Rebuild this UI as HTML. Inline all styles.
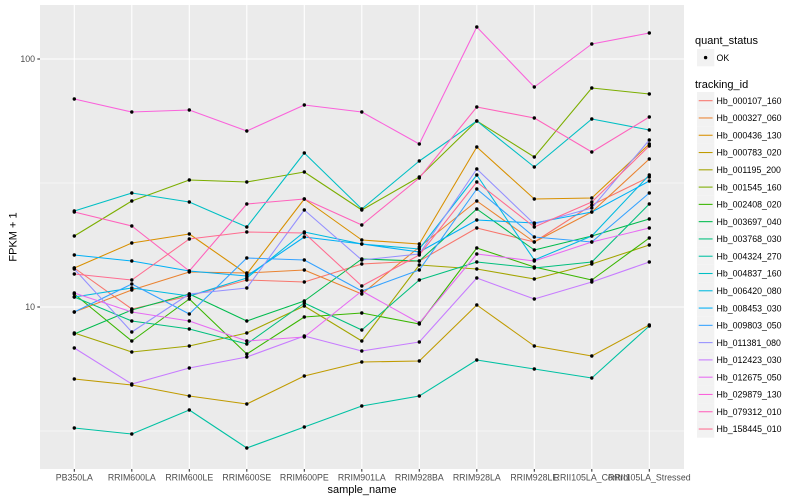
<!DOCTYPE html>
<html>
<head>
<meta charset="utf-8">
<style>
  html,body{margin:0;padding:0;background:#fff;}
  svg{display:block;}
  text{font-family:"Liberation Sans",Arial,sans-serif;}
  .ln{fill:none;stroke-width:1.07;stroke-linejoin:round;}
  .pt{fill:none;stroke:none;marker-start:url(#d);marker-mid:url(#d);marker-end:url(#d);}
  .tk{font-size:8.8px;fill:#4D4D4D;}
  .lg{font-size:8.8px;fill:#000;}
  .tt{font-size:11px;fill:#000;}
</style>
</head>
<body>
<svg width="800" height="500" viewBox="0 0 800 500" xmlns="http://www.w3.org/2000/svg">
<defs>
  <marker id="d" markerUnits="userSpaceOnUse" markerWidth="5" markerHeight="5" refX="2.5" refY="2.5" viewBox="0 0 5 5">
    <circle cx="2.5" cy="2.5" r="1.7" fill="#000"/>
  </marker>
</defs>
<rect x="0" y="0" width="800" height="500" fill="#fff"/>
<!-- panel -->
<rect x="40" y="5" width="644" height="464" fill="#EBEBEB"/>
<!-- minor grid -->
<line x1="40" x2="684" y1="183" y2="183" stroke="#fff" stroke-width="0.6"/>
<line x1="40" x2="684" y1="431" y2="431" stroke="#fff" stroke-width="0.6"/>
<!-- major grid -->
<g stroke="#fff" stroke-width="1.1">
<line x1="40" x2="684" y1="59" y2="59"/>
<line x1="40" x2="684" y1="307" y2="307"/>
<line x1="74.3" x2="74.3" y1="5" y2="469"/>
<line x1="131.8" x2="131.8" y1="5" y2="469"/>
<line x1="189.3" x2="189.3" y1="5" y2="469"/>
<line x1="246.8" x2="246.8" y1="5" y2="469"/>
<line x1="304.3" x2="304.3" y1="5" y2="469"/>
<line x1="361.8" x2="361.8" y1="5" y2="469"/>
<line x1="419.3" x2="419.3" y1="5" y2="469"/>
<line x1="476.8" x2="476.8" y1="5" y2="469"/>
<line x1="534.3" x2="534.3" y1="5" y2="469"/>
<line x1="591.8" x2="591.8" y1="5" y2="469"/>
<line x1="649.3" x2="649.3" y1="5" y2="469"/>
</g>

<!-- series lines -->
<g id="series">
<polyline class="ln" stroke="#F8766D" points="74.3,268 131.8,309 189.3,296 246.8,280 304.3,282 361.8,264 419.3,261 476.8,228 534.3,242 591.8,205 649.3,177"/>
<polyline class="ln" stroke="#EA8331" points="74.3,312 131.8,290 189.3,272 246.8,273 304.3,270 361.8,294 419.3,247 476.8,201 534.3,242 591.8,212 649.3,159"/>
<polyline class="ln" stroke="#D89000" points="74.3,268 131.8,243 189.3,234 246.8,274 304.3,199 361.8,240 419.3,244 476.8,147 534.3,199 591.8,198 649.3,144"/>
<polyline class="ln" stroke="#C09B00" points="74.3,379 131.8,385 189.3,396 246.8,404 304.3,376 361.8,362 419.3,361 476.8,305 534.3,346 591.8,356 649.3,325"/>
<polyline class="ln" stroke="#A3A500" points="74.3,333 131.8,352 189.3,346 246.8,333 304.3,306 361.8,341 419.3,265 476.8,269 534.3,279 591.8,264 649.3,245"/>
<polyline class="ln" stroke="#7CAE00" points="74.3,236 131.8,201 189.3,180 246.8,182 304.3,172 361.8,210 419.3,177 476.8,121 534.3,157 591.8,88 649.3,94"/>
<polyline class="ln" stroke="#39B600" points="74.3,294 131.8,341 189.3,299 246.8,354 304.3,317 361.8,313 419.3,324 476.8,248 534.3,267 591.8,280 649.3,238"/>
<polyline class="ln" stroke="#00BB4E" points="74.3,334 131.8,310 189.3,294 246.8,321 304.3,301 361.8,259 419.3,261 476.8,209 534.3,250 591.8,236 649.3,219"/>
<polyline class="ln" stroke="#00BF7D" points="74.3,297 131.8,321 189.3,329 246.8,344 304.3,303 361.8,330 419.3,280 476.8,262 534.3,268 591.8,262 649.3,204"/>
<polyline class="ln" stroke="#00C1A3" points="74.3,428 131.8,434 189.3,410 246.8,448 304.3,427 361.8,406 419.3,396 476.8,360 534.3,369 591.8,378 649.3,326"/>
<polyline class="ln" stroke="#00BFC4" points="74.3,211 131.8,193 189.3,202 246.8,227 304.3,153 361.8,209 419.3,161 476.8,121 534.3,167 591.8,119 649.3,130"/>
<polyline class="ln" stroke="#00BAE0" points="74.3,297 131.8,288 189.3,296 246.8,278 304.3,232 361.8,244 419.3,249 476.8,175 534.3,260 591.8,236 649.3,175"/>
<polyline class="ln" stroke="#00B0F6" points="74.3,255 131.8,261 189.3,271 246.8,276 304.3,237 361.8,244 419.3,252 476.8,220 534.3,223 591.8,212 649.3,181"/>
<polyline class="ln" stroke="#35A2FF" points="74.3,312 131.8,284 189.3,314 246.8,258 304.3,260 361.8,291 419.3,270 476.8,189 534.3,237 591.8,242 649.3,193"/>
<polyline class="ln" stroke="#9590FF" points="74.3,269 131.8,332 189.3,294 246.8,288 304.3,210 361.8,260 419.3,254 476.8,169 534.3,224 591.8,208 649.3,140"/>
<polyline class="ln" stroke="#C77CFF" points="74.3,348 131.8,384 189.3,368 246.8,357 304.3,336 361.8,351 419.3,342 476.8,278 534.3,299 591.8,282 649.3,262"/>
<polyline class="ln" stroke="#E76BF3" points="74.3,293 131.8,312 189.3,321 246.8,341 304.3,337 361.8,291 419.3,323 476.8,254 534.3,261 591.8,242 649.3,228"/>
<polyline class="ln" stroke="#FA62DB" points="74.3,99 131.8,112 189.3,110 246.8,131 304.3,105 361.8,112 419.3,144 476.8,27 534.3,87 591.8,44 649.3,33"/>
<polyline class="ln" stroke="#FF62BC" points="74.3,212 131.8,226 189.3,271 246.8,204 304.3,199 361.8,225 419.3,178 476.8,107 534.3,118 591.8,152 649.3,117"/>
<polyline class="ln" stroke="#FF6C90" points="74.3,274 131.8,280 189.3,239 246.8,232 304.3,233 361.8,286 419.3,255 476.8,182 534.3,227 591.8,202 649.3,146"/>
</g>

<!-- points -->
<g>
<polyline class="pt" points="74.3,268 131.8,309 189.3,296 246.8,280 304.3,282 361.8,264 419.3,261 476.8,228 534.3,242 591.8,205 649.3,177"/>
<polyline class="pt" points="74.3,312 131.8,290 189.3,272 246.8,273 304.3,270 361.8,294 419.3,247 476.8,201 534.3,242 591.8,212 649.3,159"/>
<polyline class="pt" points="74.3,268 131.8,243 189.3,234 246.8,274 304.3,199 361.8,240 419.3,244 476.8,147 534.3,199 591.8,198 649.3,144"/>
<polyline class="pt" points="74.3,379 131.8,385 189.3,396 246.8,404 304.3,376 361.8,362 419.3,361 476.8,305 534.3,346 591.8,356 649.3,325"/>
<polyline class="pt" points="74.3,333 131.8,352 189.3,346 246.8,333 304.3,306 361.8,341 419.3,265 476.8,269 534.3,279 591.8,264 649.3,245"/>
<polyline class="pt" points="74.3,236 131.8,201 189.3,180 246.8,182 304.3,172 361.8,210 419.3,177 476.8,121 534.3,157 591.8,88 649.3,94"/>
<polyline class="pt" points="74.3,294 131.8,341 189.3,299 246.8,354 304.3,317 361.8,313 419.3,324 476.8,248 534.3,267 591.8,280 649.3,238"/>
<polyline class="pt" points="74.3,334 131.8,310 189.3,294 246.8,321 304.3,301 361.8,259 419.3,261 476.8,209 534.3,250 591.8,236 649.3,219"/>
<polyline class="pt" points="74.3,297 131.8,321 189.3,329 246.8,344 304.3,303 361.8,330 419.3,280 476.8,262 534.3,268 591.8,262 649.3,204"/>
<polyline class="pt" points="74.3,428 131.8,434 189.3,410 246.8,448 304.3,427 361.8,406 419.3,396 476.8,360 534.3,369 591.8,378 649.3,326"/>
<polyline class="pt" points="74.3,211 131.8,193 189.3,202 246.8,227 304.3,153 361.8,209 419.3,161 476.8,121 534.3,167 591.8,119 649.3,130"/>
<polyline class="pt" points="74.3,297 131.8,288 189.3,296 246.8,278 304.3,232 361.8,244 419.3,249 476.8,175 534.3,260 591.8,236 649.3,175"/>
<polyline class="pt" points="74.3,255 131.8,261 189.3,271 246.8,276 304.3,237 361.8,244 419.3,252 476.8,220 534.3,223 591.8,212 649.3,181"/>
<polyline class="pt" points="74.3,312 131.8,284 189.3,314 246.8,258 304.3,260 361.8,291 419.3,270 476.8,189 534.3,237 591.8,242 649.3,193"/>
<polyline class="pt" points="74.3,269 131.8,332 189.3,294 246.8,288 304.3,210 361.8,260 419.3,254 476.8,169 534.3,224 591.8,208 649.3,140"/>
<polyline class="pt" points="74.3,348 131.8,384 189.3,368 246.8,357 304.3,336 361.8,351 419.3,342 476.8,278 534.3,299 591.8,282 649.3,262"/>
<polyline class="pt" points="74.3,293 131.8,312 189.3,321 246.8,341 304.3,337 361.8,291 419.3,323 476.8,254 534.3,261 591.8,242 649.3,228"/>
<polyline class="pt" points="74.3,99 131.8,112 189.3,110 246.8,131 304.3,105 361.8,112 419.3,144 476.8,27 534.3,87 591.8,44 649.3,33"/>
<polyline class="pt" points="74.3,212 131.8,226 189.3,271 246.8,204 304.3,199 361.8,225 419.3,178 476.8,107 534.3,118 591.8,152 649.3,117"/>
<polyline class="pt" points="74.3,274 131.8,280 189.3,239 246.8,232 304.3,233 361.8,286 419.3,255 476.8,182 534.3,227 591.8,202 649.3,146"/>
</g>

<!-- axis ticks -->
<g stroke="#333333" stroke-width="1.07">
<line x1="37.3" x2="40" y1="59" y2="59"/>
<line x1="37.3" x2="40" y1="307" y2="307"/>
<line x1="74.3" x2="74.3" y1="469" y2="471.7"/>
<line x1="131.8" x2="131.8" y1="469" y2="471.7"/>
<line x1="189.3" x2="189.3" y1="469" y2="471.7"/>
<line x1="246.8" x2="246.8" y1="469" y2="471.7"/>
<line x1="304.3" x2="304.3" y1="469" y2="471.7"/>
<line x1="361.8" x2="361.8" y1="469" y2="471.7"/>
<line x1="419.3" x2="419.3" y1="469" y2="471.7"/>
<line x1="476.8" x2="476.8" y1="469" y2="471.7"/>
<line x1="534.3" x2="534.3" y1="469" y2="471.7"/>
<line x1="591.8" x2="591.8" y1="469" y2="471.7"/>
<line x1="649.3" x2="649.3" y1="469" y2="471.7"/>
</g>

<!-- tick labels -->
<text class="tk" x="35" y="62.2" text-anchor="end">100</text>
<text class="tk" x="35" y="310.2" text-anchor="end">10</text>
<g class="tk" text-anchor="middle">
<text class="tk" x="74.3" y="480.5" text-anchor="middle">PB350LA</text>
<text class="tk" x="131.8" y="480.5" text-anchor="middle">RRIM600LA</text>
<text class="tk" x="189.3" y="480.5" text-anchor="middle">RRIM600LE</text>
<text class="tk" x="246.8" y="480.5" text-anchor="middle">RRIM600SE</text>
<text class="tk" x="304.3" y="480.5" text-anchor="middle">RRIM600PE</text>
<text class="tk" x="361.8" y="480.5" text-anchor="middle">RRIM901LA</text>
<text class="tk" x="419.3" y="480.5" text-anchor="middle">RRIM928BA</text>
<text class="tk" x="476.8" y="480.5" text-anchor="middle">RRIM928LA</text>
<text class="tk" x="534.3" y="480.5" text-anchor="middle">RRIM928LE</text>
<text class="tk" x="591.8" y="480.5" text-anchor="middle">RRII105LA_Control</text>
<text class="tk" x="649.3" y="480.5" text-anchor="middle">RRII105LA_Stressed</text>
</g>

<!-- axis titles -->
<text class="tt" x="362" y="493" text-anchor="middle">sample_name</text>
<text class="tt" transform="translate(16.5,237) rotate(-90)" text-anchor="middle">FPKM + 1</text>

<!-- legend: quant_status -->
<text class="tt" x="695" y="44">quant_status</text>
<rect x="697" y="49" width="17.3" height="17.3" fill="#F2F2F2"/>
<circle cx="705.6" cy="57.6" r="1.7" fill="#000"/>
<text class="lg" x="716.5" y="60.8">OK</text>

<!-- legend: tracking_id -->
<text class="tt" x="695" y="88">tracking_id</text>
<g>
<rect x="697" y="92.06" width="17.3" height="17.28" fill="#F2F2F2"/><line x1="698.7" x2="712.6" y1="100.7" y2="100.7" stroke="#F8766D" stroke-width="1.07"/><text class="lg" x="716.5" y="103.9">Hb_000107_160</text>
<rect x="697" y="109.34" width="17.3" height="17.28" fill="#F2F2F2"/><line x1="698.7" x2="712.6" y1="117.98" y2="117.98" stroke="#EA8331" stroke-width="1.07"/><text class="lg" x="716.5" y="121.2">Hb_000327_060</text>
<rect x="697" y="126.62" width="17.3" height="17.28" fill="#F2F2F2"/><line x1="698.7" x2="712.6" y1="135.26" y2="135.26" stroke="#D89000" stroke-width="1.07"/><text class="lg" x="716.5" y="138.5">Hb_000436_130</text>
<rect x="697" y="143.9" width="17.3" height="17.28" fill="#F2F2F2"/><line x1="698.7" x2="712.6" y1="152.54" y2="152.54" stroke="#C09B00" stroke-width="1.07"/><text class="lg" x="716.5" y="155.7">Hb_000783_020</text>
<rect x="697" y="161.18" width="17.3" height="17.28" fill="#F2F2F2"/><line x1="698.7" x2="712.6" y1="169.82" y2="169.82" stroke="#A3A500" stroke-width="1.07"/><text class="lg" x="716.5" y="173.0">Hb_001195_200</text>
<rect x="697" y="178.46" width="17.3" height="17.28" fill="#F2F2F2"/><line x1="698.7" x2="712.6" y1="187.1" y2="187.1" stroke="#7CAE00" stroke-width="1.07"/><text class="lg" x="716.5" y="190.3">Hb_001545_160</text>
<rect x="697" y="195.74" width="17.3" height="17.28" fill="#F2F2F2"/><line x1="698.7" x2="712.6" y1="204.38" y2="204.38" stroke="#39B600" stroke-width="1.07"/><text class="lg" x="716.5" y="207.6">Hb_002408_020</text>
<rect x="697" y="213.02" width="17.3" height="17.28" fill="#F2F2F2"/><line x1="698.7" x2="712.6" y1="221.66" y2="221.66" stroke="#00BB4E" stroke-width="1.07"/><text class="lg" x="716.5" y="224.9">Hb_003697_040</text>
<rect x="697" y="230.3" width="17.3" height="17.28" fill="#F2F2F2"/><line x1="698.7" x2="712.6" y1="238.94" y2="238.94" stroke="#00BF7D" stroke-width="1.07"/><text class="lg" x="716.5" y="242.1">Hb_003768_030</text>
<rect x="697" y="247.58" width="17.3" height="17.28" fill="#F2F2F2"/><line x1="698.7" x2="712.6" y1="256.22" y2="256.22" stroke="#00C1A3" stroke-width="1.07"/><text class="lg" x="716.5" y="259.4">Hb_004324_270</text>
<rect x="697" y="264.86" width="17.3" height="17.28" fill="#F2F2F2"/><line x1="698.7" x2="712.6" y1="273.5" y2="273.5" stroke="#00BFC4" stroke-width="1.07"/><text class="lg" x="716.5" y="276.7">Hb_004837_160</text>
<rect x="697" y="282.14" width="17.3" height="17.28" fill="#F2F2F2"/><line x1="698.7" x2="712.6" y1="290.78" y2="290.78" stroke="#00BAE0" stroke-width="1.07"/><text class="lg" x="716.5" y="294.0">Hb_006420_080</text>
<rect x="697" y="299.42" width="17.3" height="17.28" fill="#F2F2F2"/><line x1="698.7" x2="712.6" y1="308.06" y2="308.06" stroke="#00B0F6" stroke-width="1.07"/><text class="lg" x="716.5" y="311.3">Hb_008453_030</text>
<rect x="697" y="316.7" width="17.3" height="17.28" fill="#F2F2F2"/><line x1="698.7" x2="712.6" y1="325.34" y2="325.34" stroke="#35A2FF" stroke-width="1.07"/><text class="lg" x="716.5" y="328.5">Hb_009803_050</text>
<rect x="697" y="333.98" width="17.3" height="17.28" fill="#F2F2F2"/><line x1="698.7" x2="712.6" y1="342.62" y2="342.62" stroke="#9590FF" stroke-width="1.07"/><text class="lg" x="716.5" y="345.8">Hb_011381_080</text>
<rect x="697" y="351.26" width="17.3" height="17.28" fill="#F2F2F2"/><line x1="698.7" x2="712.6" y1="359.9" y2="359.9" stroke="#C77CFF" stroke-width="1.07"/><text class="lg" x="716.5" y="363.1">Hb_012423_030</text>
<rect x="697" y="368.54" width="17.3" height="17.28" fill="#F2F2F2"/><line x1="698.7" x2="712.6" y1="377.18" y2="377.18" stroke="#E76BF3" stroke-width="1.07"/><text class="lg" x="716.5" y="380.4">Hb_012675_050</text>
<rect x="697" y="385.82" width="17.3" height="17.28" fill="#F2F2F2"/><line x1="698.7" x2="712.6" y1="394.46" y2="394.46" stroke="#FA62DB" stroke-width="1.07"/><text class="lg" x="716.5" y="397.7">Hb_029879_130</text>
<rect x="697" y="403.1" width="17.3" height="17.28" fill="#F2F2F2"/><line x1="698.7" x2="712.6" y1="411.74" y2="411.74" stroke="#FF62BC" stroke-width="1.07"/><text class="lg" x="716.5" y="414.9">Hb_079312_010</text>
<rect x="697" y="420.38" width="17.3" height="17.28" fill="#F2F2F2"/><line x1="698.7" x2="712.6" y1="429.02" y2="429.02" stroke="#FF6C90" stroke-width="1.07"/><text class="lg" x="716.5" y="432.2">Hb_158445_010</text>
</g>
</svg>
</body>
</html>
